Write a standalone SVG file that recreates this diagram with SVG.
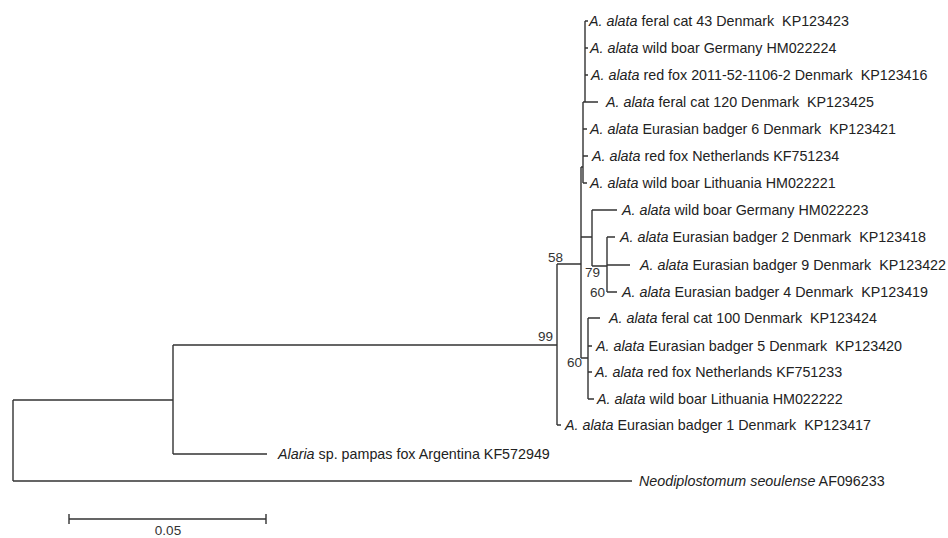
<svg xmlns="http://www.w3.org/2000/svg" width="948" height="538" viewBox="0 0 948 538">
<style>
text{font-family:"Liberation Sans",Arial,sans-serif;font-size:14.3px;fill:#222;white-space:pre}
.i{font-style:italic}
.bs{font-size:13.5px;fill:#333}
.br{fill:none;stroke:#333;stroke-width:1.4}
</style>
<rect width="948" height="538" fill="#fff"/>
<g id="connectors" class="br">
<path d="M13,400 V481 M13,400 H173 M13,481 H632"/>
<path d="M173,345 V454 M173,345 H557 M173,454 H267"/>
<path d="M557,264 V425 M557,264 H581 M557,425 H561"/>
<path d="M581,167 V358 M581,167 H583"/>
<path d="M585,21 V102 M585,21 H588 M585,48 H588 M585,75 H588"/>
<path d="M583,102 V183 M583,102 H598 M583,129 H587 M583,156 H588 M583,183 H587"/>
<path d="M581,237 H592 M592,210 V266 M592,210 H617 M592,266 H607"/>
<path d="M607,237 V292 M607,237 H615 M607,265 H630 M607,292 H617"/>
<path d="M581,358 H588 M588,318 V399 M588,318 H600 M588,346 H592 M588,372 H592 M588,399 H594"/>
<path d="M69,519 H266 M69,514 V524 M266,514 V524"/>
</g>
<g id="labels">
<text class="bs" x="563" y="262" text-anchor="end">58</text>
<text class="bs" x="553" y="341" text-anchor="end">99</text>
<text class="bs" x="585" y="277">79</text>
<text class="bs" x="605" y="297" text-anchor="end">60</text>
<text class="bs" x="582" y="367" text-anchor="end">60</text>
<text class="bs" x="168" y="535" text-anchor="middle">0.05</text>
</g>
<g id="n1"><text x="589" y="26"><tspan class="i">A. alata</tspan> feral cat 43 Denmark  KP123423</text></g>
<g id="n2"><text x="590" y="53"><tspan class="i">A. alata</tspan> wild boar Germany HM022224</text></g>
<g id="n3"><text x="591" y="80"><tspan class="i">A. alata</tspan> red fox 2011-52-1106-2 Denmark  KP123416</text></g>
<g id="n4"><text x="606" y="107"><tspan class="i">A. alata</tspan> feral cat 120 Denmark  KP123425</text></g>
<g id="n5"><text x="590" y="134"><tspan class="i">A. alata</tspan> Eurasian badger 6 Denmark  KP123421</text></g>
<g id="n6"><text x="592" y="161"><tspan class="i">A. alata</tspan> red fox Netherlands KF751234</text></g>
<g id="n7"><text x="590" y="188"><tspan class="i">A. alata</tspan> wild boar Lithuania HM022221</text></g>
<g id="n8"><text x="622" y="215"><tspan class="i">A. alata</tspan> wild boar Germany HM022223</text></g>
<g id="n9"><text x="620" y="242"><tspan class="i">A. alata</tspan> Eurasian badger 2 Denmark  KP123418</text></g>
<g id="n10"><text x="640" y="270"><tspan class="i">A. alata</tspan> Eurasian badger 9 Denmark  KP123422</text></g>
<g id="n11"><text x="622" y="297"><tspan class="i">A. alata</tspan> Eurasian badger 4 Denmark  KP123419</text></g>
<g id="n12"><text x="609" y="323"><tspan class="i">A. alata</tspan> feral cat 100 Denmark  KP123424</text></g>
<g id="n13"><text x="596" y="351"><tspan class="i">A. alata</tspan> Eurasian badger 5 Denmark  KP123420</text></g>
<g id="n14"><text x="595" y="377"><tspan class="i">A. alata</tspan> red fox Netherlands KF751233</text></g>
<g id="n15"><text x="597" y="404"><tspan class="i">A. alata</tspan> wild boar Lithuania HM022222</text></g>
<g id="n16"><text x="565" y="430"><tspan class="i">A. alata</tspan> Eurasian badger 1 Denmark  KP123417</text></g>
<g id="n17"><text x="278" y="459"><tspan class="i">Alaria</tspan> sp. pampas fox Argentina KF572949</text></g>
<g id="n18"><text x="639" y="486"><tspan class="i">Neodiplostomum seoulense</tspan> AF096233</text></g>
</svg>
